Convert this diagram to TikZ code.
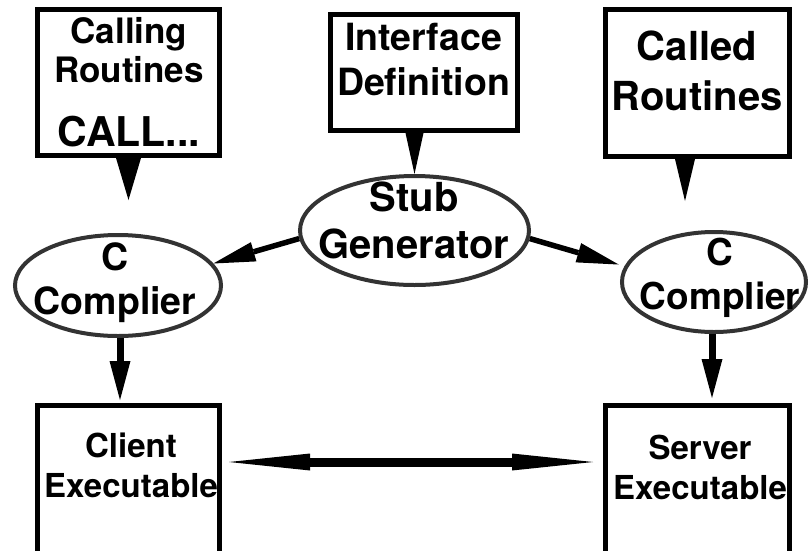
\documentclass[tikz,border=0pt]{standalone}
\usepackage{fontspec}
\setmainfont{TeX Gyre Heros}
\usetikzlibrary{arrows.meta,shapes.geometric,calc}
\begin{document}
\begin{tikzpicture}[x=1pt,y=-1pt,
  box/.style={draw=black,line width=5pt,rectangle,inner sep=0pt},
  oval/.style={draw=black!80,line width=4pt,ellipse,inner sep=0pt},
  txt/.style={anchor=north,align=center,inner sep=0pt},
  conn/.style={draw=black,line width=5.5pt,-{Triangle[length=42pt,width=20pt,line width=0pt]}},
  down/.style={draw=black,line width=7pt,-{Triangle[length=39pt,width=21pt,line width=0pt]}},
  dbl/.style={draw=black,line width=9pt,{Triangle[length=81pt,width=17pt,line width=0pt]}-{Triangle[length=81pt,width=17pt,line width=0pt]}}
]
\useasboundingbox (0,0) rectangle (812,550);

% boxes and ovals
\node[box,minimum width=182pt,minimum height=146pt] (cr) at (128.5,82.5) {};
\node[box,minimum width=187pt,minimum height=116pt] (idef) at (424,72.5) {};
\node[box,minimum width=184pt,minimum height=147pt] (cdr) at (697.5,83) {};
\node[oval,minimum width=229pt,minimum height=109pt] (stub) at (414.5,230.5) {};
\node[oval,minimum width=206pt,minimum height=101pt] (ccl) at (118,285.5) {};
\node[oval,minimum width=184pt,minimum height=100pt] (ccr) at (714,282) {};
\node[box,minimum width=182pt,minimum height=148pt] (client) at (128.5,479.5) {};
\node[box,minimum width=184pt,minimum height=148pt] (server) at (697.5,479.5) {};

% texts
\node[txt,font=\bfseries\fontsize{35}{39}\selectfont] (crt) at (129,17)
  {Calling\\Routines\\[25pt]{\fontsize{41}{45}\selectfont CALL...}};
\node[txt,font=\bfseries\fontsize{37.5}{45}\selectfont] (idt) at (423.5,23) {Interface\\Definition};
\node[txt,font=\bfseries\fontsize{40}{50}\selectfont] (cdt) at (697,31) {Called\\Routines};
\node[txt,font=\bfseries\fontsize{40}{47}\selectfont] (stt) at (414,182) {Stub\\Generator};
\node[txt,font=\bfseries\fontsize{37.5}{44}\selectfont] (clt) at (115,243) {C\\Complier};
\node[txt,font=\bfseries\fontsize{37}{44}\selectfont] (crt2) at (720,238) {C\\Complier};
\node[txt,font=\bfseries\fontsize{33}{40}\selectfont] (cet) at (131,433) {Client\\Executable};
\node[txt,font=\bfseries\fontsize{33}{40}\selectfont] (set) at (700,435) {Server\\Executable};

% triangular pointers from the top boxes
\coordinate (t1) at (128.5,200);
\fill ([xshift=-12.5pt]cr.south) -- ([xshift=12.5pt]cr.south) -- (t1) -- cycle;
\fill ($(stub.north |- idef.south)+(-9,0)$) -- ($(stub.north |- idef.south)+(9,0)$) -- (stub.north) -- cycle;
\coordinate (t3) at (685,201);
\fill ($(t3 |- cdr.south)+(-10,0)$) -- ($(t3 |- cdr.south)+(10,0)$) -- (t3) -- cycle;

% arrows
\draw[conn] (stub.184) -- (ccl.13);
\draw[conn,shorten >=6pt] (stub.-4) -- (ccr.170);
\draw[down,shorten >=3pt] ([xshift=2pt]ccl.south) -- ([xshift=2pt]ccl.south |- client.north);
\draw[down,shorten >=5pt] ([xshift=-2pt]ccr.south) -- ([xshift=-2pt]ccr.south |- server.north);
\draw[dbl,shorten <=7pt,shorten >=10pt] ([yshift=17.5pt]client.east) -- ([yshift=17.5pt]server.west);
\end{tikzpicture}
\end{document}
